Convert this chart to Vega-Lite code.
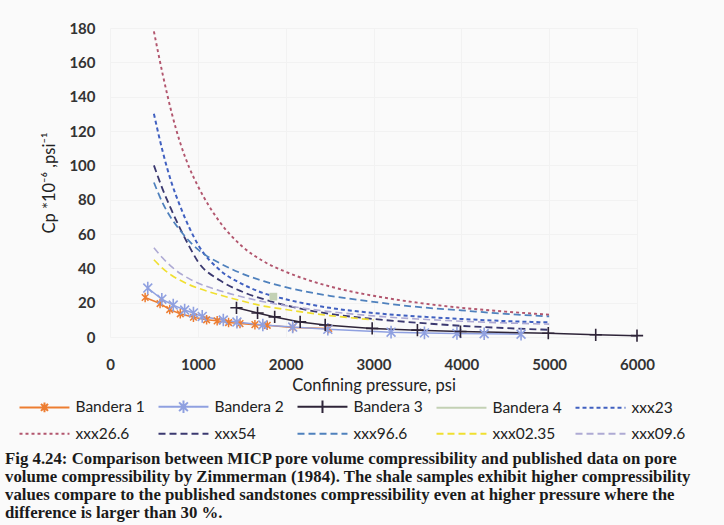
{
  "$schema": "https://vega.github.io/schema/vega-lite/v6.json",
  "autosize": {"type": "none"},
  "width": 527,
  "height": 309,
  "padding": {"left": 110, "top": 28, "right": 87, "bottom": 188},
  "background": "#fafafa",
  "title": {
    "text": [
      "Fig 4.24: Comparison between MICP pore volume compressibility and published data on pore",
      "volume compressibility by Zimmerman (1984). The shale samples exhibit higher compressibility",
      "values compare to the published sandstones compressibility even at higher pressure where the",
      "difference is larger than 30 %."
    ],
    "orient": "bottom",
    "anchor": "start",
    "frame": "bounds",
    "font": "Liberation Serif",
    "fontSize": 16.8,
    "fontWeight": "bold",
    "color": "#1a1a1a",
    "lineHeight": 18,
    "offset": 8,
    "dx": -13
  },
  "config": {
    "view": {"stroke": null},
    "axis": {
      "labelFont": "Lato",
      "labelFontSize": 15,
      "labelFontWeight": "bold",
      "labelColor": "#333333",
      "labelFlush": false,
      "titleFont": "Lato",
      "titleFontSize": 16.5,
      "titleFontWeight": "normal",
      "titleColor": "#222222",
      "ticks": false,
      "domain": false,
      "gridColor": "#f2f2f2",
      "gridWidth": 1
    },
    "legend": {
      "labelFont": "Lato",
      "labelFontSize": 15.5,
      "labelColor": "#222222"
    }
  },
  "resolve": {"scale": {"color": "independent", "strokeDash": "independent", "shape": "independent", "strokeWidth": "independent"}},
  "data": {
    "values": [
      {"series": "Bandera 1", "p": 400, "cp": 23},
      {"series": "Bandera 1", "p": 570, "cp": 19.5},
      {"series": "Bandera 1", "p": 680, "cp": 16},
      {"series": "Bandera 1", "p": 800, "cp": 13.5},
      {"series": "Bandera 1", "p": 950, "cp": 11.5},
      {"series": "Bandera 1", "p": 1100, "cp": 10},
      {"series": "Bandera 1", "p": 1220, "cp": 9.4},
      {"series": "Bandera 1", "p": 1350, "cp": 8.4},
      {"series": "Bandera 1", "p": 1480, "cp": 7.8},
      {"series": "Bandera 1", "p": 1650, "cp": 7.2},
      {"series": "Bandera 1", "p": 1790, "cp": 6.8},
      {"series": "Bandera 1", "p": 2080, "cp": 5.6},
      {"series": "Bandera 1", "p": 2490, "cp": 5},

      {"series": "Bandera 2", "p": 430, "cp": 28.5},
      {"series": "Bandera 2", "p": 590, "cp": 22},
      {"series": "Bandera 2", "p": 720, "cp": 18.6},
      {"series": "Bandera 2", "p": 850, "cp": 15.7},
      {"series": "Bandera 2", "p": 950, "cp": 14},
      {"series": "Bandera 2", "p": 1050, "cp": 12},
      {"series": "Bandera 2", "p": 1290, "cp": 9.9},
      {"series": "Bandera 2", "p": 1445, "cp": 8.7},
      {"series": "Bandera 2", "p": 1740, "cp": 7},
      {"series": "Bandera 2", "p": 2080, "cp": 5.8},
      {"series": "Bandera 2", "p": 2480, "cp": 4.5},
      {"series": "Bandera 2", "p": 3200, "cp": 2.8},
      {"series": "Bandera 2", "p": 3580, "cp": 2.4},
      {"series": "Bandera 2", "p": 3950, "cp": 2.1},
      {"series": "Bandera 2", "p": 4260, "cp": 1.9},
      {"series": "Bandera 2", "p": 4680, "cp": 1.6},

      {"series": "Bandera 3", "p": 1440, "cp": 17},
      {"series": "Bandera 3", "p": 1680, "cp": 14},
      {"series": "Bandera 3", "p": 1875, "cp": 11.7},
      {"series": "Bandera 3", "p": 2165, "cp": 8.8},
      {"series": "Bandera 3", "p": 2450, "cp": 7},
      {"series": "Bandera 3", "p": 2985, "cp": 5},
      {"series": "Bandera 3", "p": 3500, "cp": 4},
      {"series": "Bandera 3", "p": 3990, "cp": 3.2},
      {"series": "Bandera 3", "p": 4990, "cp": 2.2},
      {"series": "Bandera 3", "p": 5530, "cp": 1.3},
      {"series": "Bandera 3", "p": 6000, "cp": 0.8},

      {"series": "Bandera 4", "p": 1860, "cp": 23.5},

      {"series": "xxx23", "p": 500, "cp": 130},
      {"series": "xxx23", "p": 600, "cp": 108},
      {"series": "xxx23", "p": 700, "cp": 90},
      {"series": "xxx23", "p": 800, "cp": 76},
      {"series": "xxx23", "p": 900, "cp": 64},
      {"series": "xxx23", "p": 1000, "cp": 54},
      {"series": "xxx23", "p": 1250, "cp": 39},
      {"series": "xxx23", "p": 1500, "cp": 31},
      {"series": "xxx23", "p": 1750, "cp": 25.5},
      {"series": "xxx23", "p": 2000, "cp": 22},
      {"series": "xxx23", "p": 2500, "cp": 17},
      {"series": "xxx23", "p": 3000, "cp": 14},
      {"series": "xxx23", "p": 3500, "cp": 12},
      {"series": "xxx23", "p": 4000, "cp": 10.5},
      {"series": "xxx23", "p": 4500, "cp": 9.3},
      {"series": "xxx23", "p": 5000, "cp": 8.5},

      {"series": "xxx26.6", "p": 500, "cp": 178},
      {"series": "xxx26.6", "p": 600, "cp": 153},
      {"series": "xxx26.6", "p": 700, "cp": 131},
      {"series": "xxx26.6", "p": 800, "cp": 113},
      {"series": "xxx26.6", "p": 900, "cp": 99},
      {"series": "xxx26.6", "p": 1000, "cp": 88},
      {"series": "xxx26.6", "p": 1250, "cp": 67},
      {"series": "xxx26.6", "p": 1500, "cp": 53},
      {"series": "xxx26.6", "p": 1750, "cp": 44},
      {"series": "xxx26.6", "p": 2000, "cp": 38},
      {"series": "xxx26.6", "p": 2500, "cp": 29.5},
      {"series": "xxx26.6", "p": 3000, "cp": 24},
      {"series": "xxx26.6", "p": 3500, "cp": 20},
      {"series": "xxx26.6", "p": 4000, "cp": 17},
      {"series": "xxx26.6", "p": 4500, "cp": 14.8},
      {"series": "xxx26.6", "p": 5000, "cp": 13},

      {"series": "xxx54", "p": 500, "cp": 100},
      {"series": "xxx54", "p": 600, "cp": 86},
      {"series": "xxx54", "p": 700, "cp": 74},
      {"series": "xxx54", "p": 800, "cp": 63},
      {"series": "xxx54", "p": 900, "cp": 53},
      {"series": "xxx54", "p": 1000, "cp": 44},
      {"series": "xxx54", "p": 1250, "cp": 33},
      {"series": "xxx54", "p": 1500, "cp": 26.5},
      {"series": "xxx54", "p": 1750, "cp": 22},
      {"series": "xxx54", "p": 2000, "cp": 18.5},
      {"series": "xxx54", "p": 2500, "cp": 13.5},
      {"series": "xxx54", "p": 3000, "cp": 10.5},
      {"series": "xxx54", "p": 3500, "cp": 8.3},
      {"series": "xxx54", "p": 4000, "cp": 6.5},
      {"series": "xxx54", "p": 4500, "cp": 5.2},
      {"series": "xxx54", "p": 5000, "cp": 4.2},

      {"series": "xxx96.6", "p": 500, "cp": 90},
      {"series": "xxx96.6", "p": 600, "cp": 78},
      {"series": "xxx96.6", "p": 700, "cp": 69},
      {"series": "xxx96.6", "p": 800, "cp": 62},
      {"series": "xxx96.6", "p": 900, "cp": 56},
      {"series": "xxx96.6", "p": 1000, "cp": 51},
      {"series": "xxx96.6", "p": 1250, "cp": 43},
      {"series": "xxx96.6", "p": 1500, "cp": 37},
      {"series": "xxx96.6", "p": 1750, "cp": 32.5},
      {"series": "xxx96.6", "p": 2000, "cp": 29},
      {"series": "xxx96.6", "p": 2500, "cp": 24},
      {"series": "xxx96.6", "p": 3000, "cp": 20.5},
      {"series": "xxx96.6", "p": 3500, "cp": 17.5},
      {"series": "xxx96.6", "p": 4000, "cp": 15.5},
      {"series": "xxx96.6", "p": 4500, "cp": 13.5},
      {"series": "xxx96.6", "p": 5000, "cp": 12},

      {"series": "xxx02.35", "p": 500, "cp": 45},
      {"series": "xxx02.35", "p": 600, "cp": 40},
      {"series": "xxx02.35", "p": 700, "cp": 36},
      {"series": "xxx02.35", "p": 800, "cp": 33},
      {"series": "xxx02.35", "p": 900, "cp": 30.5},
      {"series": "xxx02.35", "p": 1000, "cp": 28.5},
      {"series": "xxx02.35", "p": 1250, "cp": 24.5},
      {"series": "xxx02.35", "p": 1500, "cp": 21},
      {"series": "xxx02.35", "p": 1750, "cp": 18},
      {"series": "xxx02.35", "p": 2000, "cp": 16},
      {"series": "xxx02.35", "p": 2500, "cp": 12.5},
      {"series": "xxx02.35", "p": 3000, "cp": 10},

      {"series": "xxx09.6", "p": 500, "cp": 52},
      {"series": "xxx09.6", "p": 600, "cp": 46},
      {"series": "xxx09.6", "p": 700, "cp": 41},
      {"series": "xxx09.6", "p": 800, "cp": 37},
      {"series": "xxx09.6", "p": 900, "cp": 34},
      {"series": "xxx09.6", "p": 1000, "cp": 31.5},
      {"series": "xxx09.6", "p": 1250, "cp": 27},
      {"series": "xxx09.6", "p": 1500, "cp": 23.5},
      {"series": "xxx09.6", "p": 1750, "cp": 20.5},
      {"series": "xxx09.6", "p": 2000, "cp": 18.3},
      {"series": "xxx09.6", "p": 2500, "cp": 14.8},
      {"series": "xxx09.6", "p": 3000, "cp": 12.3},
      {"series": "xxx09.6", "p": 3500, "cp": 10.5},
      {"series": "xxx09.6", "p": 4000, "cp": 9.2},
      {"series": "xxx09.6", "p": 4500, "cp": 8.2},
      {"series": "xxx09.6", "p": 5000, "cp": 7.5}
    ]
  },
  "encoding": {
    "x": {
      "field": "p",
      "type": "quantitative",
      "scale": {"domain": [0, 6000], "nice": false},
      "axis": {
        "values": [0, 1000, 2000, 3000, 4000, 5000, 6000],
        "format": "d",
        "title": "Confining pressure, psi",
        "labelPadding": 20,
        "titlePadding": 5
      }
    },
    "y": {
      "field": "cp",
      "type": "quantitative",
      "scale": {"domain": [0, 180], "nice": false},
      "axis": {
        "values": [0, 20, 40, 60, 80, 100, 120, 140, 160, 180],
        "title": "Cp *10⁻⁶ ,psi⁻¹",
        "labelPadding": 15,
        "titlePadding": 11
      }
    }
  },
  "layer": [
    {
      "mark": {"type": "line", "interpolate": "monotone"},
      "transform": [{"filter": "indexof(datum.series, 'xxx') == 0"}],
      "encoding": {
        "color": {
          "field": "series",
          "type": "nominal",
          "legend": null,
          "scale": {
            "domain": ["xxx23", "xxx26.6", "xxx54", "xxx96.6", "xxx02.35", "xxx09.6"],
            "range": ["#4060c0", "#b2566e", "#3b3970", "#4f81bd", "#f0df30", "#aeaad4"]
          }
        },
        "strokeDash": {
          "field": "series",
          "type": "nominal",
          "legend": null,
          "scale": {
            "domain": ["xxx23", "xxx26.6", "xxx54", "xxx96.6", "xxx02.35", "xxx09.6"],
            "range": [[4, 3], [3, 3], [7, 4], [7, 4], [7, 4], [7, 4]]
          }
        },
        "strokeWidth": {
          "field": "series",
          "type": "nominal",
          "legend": null,
          "scale": {
            "domain": ["xxx23", "xxx26.6", "xxx54", "xxx96.6", "xxx02.35", "xxx09.6"],
            "range": [2, 1.6, 2.6, 2.4, 2.6, 2.4]
          }
        }
      }
    },
    {
      "mark": {"type": "line", "strokeWidth": 1.5},
      "transform": [{"filter": "indexof(datum.series, 'Bandera') == 0"}],
      "encoding": {
        "color": {
          "field": "series",
          "type": "nominal",
          "legend": null,
          "scale": {
            "domain": ["Bandera 1", "Bandera 2", "Bandera 3", "Bandera 4"],
            "range": ["#ed7d31", "#8fa0e0", "#2e2438", "#c3d1b4"]
          }
        }
      }
    },
    {
      "mark": {
        "type": "point",
        "shape": "M0,-1V1M-0.7,-0.7L0.7,0.7M-0.7,0.7L0.7,-0.7",
        "filled": false,
        "strokeWidth": 1.5,
        "size": 90,
        "opacity": 1,
        "color": "#ed7d31"
      },
      "transform": [{"filter": "datum.series == 'Bandera 1'"}],
      "encoding": {}
    },
    {
      "mark": {
        "type": "point",
        "shape": "M0,-1V1M-0.7,-0.7L0.7,0.7M-0.7,0.7L0.7,-0.7",
        "filled": false,
        "strokeWidth": 1.6,
        "size": 160,
        "opacity": 1,
        "color": "#8fa0e0"
      },
      "transform": [{"filter": "datum.series == 'Bandera 2'"}],
      "encoding": {}
    },
    {
      "mark": {
        "type": "point",
        "shape": "M0,-1V1M-1,0H1",
        "filled": false,
        "strokeWidth": 1.6,
        "size": 150,
        "opacity": 1,
        "color": "#2e2438"
      },
      "transform": [{"filter": "datum.series == 'Bandera 3'"}],
      "encoding": {}
    },
    {
      "mark": {"type": "point", "shape": "square", "filled": true, "size": 60, "opacity": 1, "color": "#c3d1b4"},
      "transform": [{"filter": "datum.series == 'Bandera 4'"}],
      "encoding": {}
    },
    {
      "mark": {"type": "point", "filled": false, "opacity": 0},
      "encoding": {
        "color": {
          "field": "series",
          "type": "nominal",
          "title": null,
          "scale": {
            "domain": ["Bandera 1", "Bandera 2", "Bandera 3", "Bandera 4", "xxx23", "xxx26.6", "xxx54", "xxx96.6", "xxx02.35", "xxx09.6"],
            "range": ["#ed7d31", "#8fa0e0", "#2e2438", "#c3d1b4", "#4060c0", "#b2566e", "#3b3970", "#4f81bd", "#f0df30", "#aeaad4"]
          },
          "legend": {
            "orient": "none",
            "legendX": -92,
            "legendY": 371,
            "direction": "horizontal",
            "columns": 5,
            "columnPadding": 9,
            "rowPadding": 9,
            "symbolSize": 156,
            "symbolStrokeWidth": 2,
            "symbolOpacity": 1,
            "labelOffset": 42,
            "padding": 0
          }
        },
        "shape": {
          "field": "series",
          "type": "nominal",
          "title": null,
          "scale": {
            "domain": ["Bandera 1", "Bandera 2", "Bandera 3", "Bandera 4", "xxx23", "xxx26.6", "xxx54", "xxx96.6", "xxx02.35", "xxx09.6"],
            "range": [
              "M-1,0H7M3,-0.8V0.8M2.44,-0.56L3.56,0.56M2.44,0.56L3.56,-0.56",
              "M-1,0H7M3,-1V1M2.3,-0.7L3.7,0.7M2.3,0.7L3.7,-0.7",
              "M-1,0H7M3,-1V1",
              "M-1,0H7",
              "M-1,0H7",
              "M-1,0H7",
              "M-1,0H7",
              "M-1,0H7",
              "M-1,0H7",
              "M-1,0H7"
            ]
          },
          "legend": {
            "orient": "none",
            "legendX": -92,
            "legendY": 371,
            "direction": "horizontal",
            "columns": 5,
            "columnPadding": 9,
            "rowPadding": 9,
            "symbolSize": 156,
            "symbolStrokeWidth": 2,
            "symbolOpacity": 1,
            "labelOffset": 42,
            "padding": 0
          }
        },
        "strokeDash": {
          "field": "series",
          "type": "nominal",
          "title": null,
          "scale": {
            "domain": ["Bandera 1", "Bandera 2", "Bandera 3", "Bandera 4", "xxx23", "xxx26.6", "xxx54", "xxx96.6", "xxx02.35", "xxx09.6"],
            "range": [[1, 0], [1, 0], [1, 0], [1, 0], [4, 3], [3, 3], [7, 4], [7, 4], [7, 4], [7, 4]]
          },
          "legend": {
            "orient": "none",
            "legendX": -92,
            "legendY": 371,
            "direction": "horizontal",
            "columns": 5,
            "columnPadding": 9,
            "rowPadding": 9,
            "symbolSize": 156,
            "symbolStrokeWidth": 2,
            "symbolOpacity": 1,
            "labelOffset": 42,
            "padding": 0
          }
        }
      }
    }
  ]
}
